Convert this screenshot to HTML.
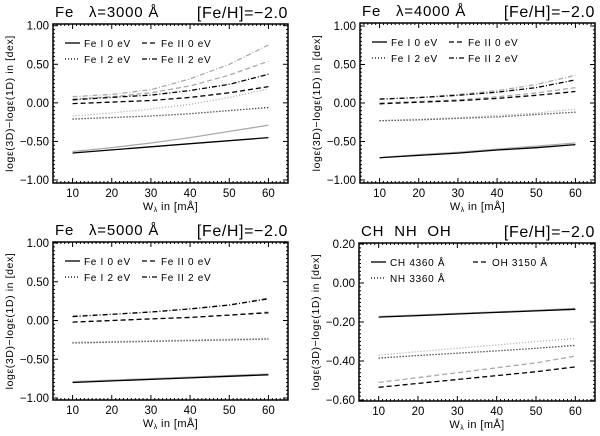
<!DOCTYPE html>
<html><head><meta charset="utf-8"><style>
body{margin:0;background:#fff;}
svg text{font-family:"Liberation Sans",sans-serif;fill:#000;white-space:pre;}
</style></head><body>
<svg id="c" width="600" height="431" viewBox="0 0 600 431" xmlns="http://www.w3.org/2000/svg"></svg>
<script>
const xVals=[10,20,30,40,50,60];
const xTicks=[10,20,30,40,50,60];
const feTicks=[1.0,0.5,0.0,-0.5,-1.0];
const feTickLabels=["1.00","0.50","0.00","-0.50","-1.00"];
const molTicks=[0.2,0.0,-0.2,-0.4,-0.6];
const molTickLabels=["0.20","0.00","-0.20","-0.40","-0.60"];
// panel 1 (3000 A)
const p1FeI0=[-0.65,-0.61,-0.57,-0.53,-0.49,-0.45], p1FeI0g=[-0.63,-0.58,-0.52,-0.45,-0.37,-0.29];
const p1FeI2=[-0.21,-0.19,-0.17,-0.14,-0.10,-0.06], p1FeI2g=[-0.17,-0.13,-0.08,-0.02,0.07,0.18];
const p1FeII0=[-0.01,0.01,0.03,0.07,0.13,0.21], p1FeII0g=[0.05,0.08,0.13,0.22,0.36,0.54];
const p1FeII2=[0.04,0.07,0.10,0.16,0.24,0.37], p1FeII2g=[0.08,0.11,0.17,0.31,0.50,0.75];
// panel 2 (4000 A)
const p2FeI0=[-0.71,-0.68,-0.65,-0.61,-0.58,-0.54], p2FeI0g=[-0.71,-0.67,-0.64,-0.60,-0.56,-0.52];
const p2FeI2=[-0.23,-0.22,-0.20,-0.18,-0.15,-0.12], p2FeI2g=[-0.23,-0.21,-0.19,-0.16,-0.13,-0.08];
const p2FeII0=[-0.01,0.01,0.03,0.06,0.10,0.15], p2FeII0g=[0.00,0.02,0.04,0.08,0.13,0.20];
const p2FeII2=[0.05,0.07,0.10,0.14,0.20,0.30], p2FeII2g=[0.05,0.07,0.11,0.16,0.24,0.36];
// panel 3 (5000 A)
const p3FeI0=[-0.80,-0.78,-0.76,-0.74,-0.72,-0.70], p3FeI0g=[-0.79,-0.77,-0.75,-0.73,-0.71,-0.69];
const p3FeI2=[-0.29,-0.28,-0.27,-0.26,-0.25,-0.24], p3FeI2g=[-0.28,-0.27,-0.26,-0.25,-0.24,-0.23];
const p3FeII0=[-0.02,0.00,0.02,0.04,0.07,0.10], p3FeII0g=[-0.02,0.00,0.02,0.04,0.07,0.11];
const p3FeII2=[0.05,0.08,0.11,0.15,0.20,0.28], p3FeII2g=[0.06,0.08,0.11,0.15,0.20,0.29];
// panel 4 molecules
const p4CH=[-0.175,-0.167,-0.159,-0.151,-0.143,-0.135], p4CHg=[-0.172,-0.164,-0.156,-0.148,-0.140,-0.130];
const p4NH=[-0.385,-0.372,-0.360,-0.348,-0.335,-0.320], p4NHg=[-0.370,-0.352,-0.335,-0.318,-0.300,-0.285];
const p4OH=[-0.535,-0.515,-0.495,-0.475,-0.455,-0.430], p4OHg=[-0.510,-0.485,-0.460,-0.435,-0.410,-0.375];

const NS="http://www.w3.org/2000/svg";
const svg=document.getElementById('c');
function mk(tag,attrs,parent,txt){const e=document.createElementNS(NS,tag);for(const k in attrs)e.setAttribute(k,attrs[k]);if(txt!==undefined)e.textContent=txt;(parent||svg).appendChild(e);return e;}
const DASH={solid:"",dot:"1,2",dash:"5,3",dashdot:"5,2,1,2"};

function panel(cfg){
  const g=mk('g',{});
  
  
  const L=cfg.box[0],R=cfg.box[1],T=cfg.box[2],B=cfg.box[3];
  const xs=v=>L+(v-5)/60*(R-L);
  const ys=v=>cfg.yTop+(cfg.yMax-v)/(cfg.yMax-cfg.yMin)*(cfg.yBot-cfg.yTop);
  const box=mk('rect',{x:L,y:T,width:R-L,height:B-T,fill:'none',stroke:'#000','stroke-width':1.5},g);
  
  
  for(let v=6;v<65;v++){const X=xs(v);const len=(v%10===0)?5:2;
    mk('line',{x1:X,x2:X,y1:B,y2:B-len,stroke:'#000','stroke-width':1},g);
    mk('line',{x1:X,x2:X,y1:T,y2:T+len,stroke:'#000','stroke-width':1},g);}
  const step=cfg.minor;
  for(let v=cfg.yMin;v<=cfg.yMax+1e-9;v+=step){const Y=ys(v);const maj=cfg.ticks.some(t=>Math.abs(t-v)<1e-6);const len=maj?5:2;
    mk('line',{x1:L,x2:L+len,y1:Y,y2:Y,stroke:'#000','stroke-width':1},g);
    mk('line',{x1:R,x2:R-len,y1:Y,y2:Y,stroke:'#000','stroke-width':1},g);}
  xTicks.forEach(t=>{const e=mk('text',{x:xs(t),y:B+14,'font-size':11.5,'text-anchor':'middle'},g,String(t));
    });
  cfg.ticks.forEach((t,i)=>{const e=mk('text',{x:L-4,y:ys(t)+4,'font-size':11.5,'text-anchor':'end'},g,cfg.tickLabels[i].replace('-','\u2212'));
    });
  const xt=mk('text',{x:(L+R)/2,y:B+27,'font-size':11,'text-anchor':'middle','letter-spacing':0.4},g);
  
  mk('tspan',{},xt,'W');mk('tspan',{'font-size':7,dy:2},xt,'\u03bb');mk('tspan',{dy:-2},xt,' in [m\u00c5]');
  const yt=mk('text',{x:0,y:0,'font-size':10.5,'letter-spacing':0.6,'text-anchor':'middle',transform:`translate(${L-40},${(T+B)/2}) rotate(-90)`},g,'log\u03b5(3D)\u2212log\u03b5(1D) in [dex]');
  
  const t1=mk('text',{x:L+2,y:T-7,'font-size':15,'letter-spacing':0.8},g,cfg.title);
  
  const t2=mk('text',{x:R,y:T-6,'font-size':16,'letter-spacing':0.6,'text-anchor':'end'},g,'[Fe/H]=\u22122.0');
  
  cfg.series.forEach(s=>{
    [[s.g,'#aaa'],[s.b,'#000']].forEach(([arr,col])=>{
      const d=arr.map((v,i)=>(i?'L':'M')+xs(xVals[i]).toFixed(1)+','+ys(v).toFixed(1)).join('');
      const p=mk('path',{d:d,fill:'none',stroke:col,'stroke-width':1.3,'stroke-dasharray':DASH[s.style]},g);
      
      
    });
  });
  cfg.legend.forEach(l=>{
    const lx=L+l.col*(cfg.colW), ly=T+19+l.row*16;
    const ln=mk('line',{x1:lx+12,x2:lx+27,y1:ly,y2:ly,stroke:'#000','stroke-width':1.3,'stroke-dasharray':DASH[l.style]},g);
    
    const tx=mk('text',{x:lx+31,y:ly+4,'font-size':10,'letter-spacing':0.7},g,l.text);
    
  });
}
const feLegend=[{col:0,row:0,style:'solid',text:'Fe I 0 eV'},{col:1,row:0,style:'dash',text:'Fe II 0 eV'},
  {col:0,row:1,style:'dot',text:'Fe I 2 eV'},{col:1,row:1,style:'dashdot',text:'Fe II 2 eV'}];
function feSeries(a,ag,b,bg,c,cg,d,dg){return [{key:'fe1-0ev',style:'solid',b:a,g:ag},{key:'fe1-2ev',style:'dot',b:b,g:bg},{key:'fe2-0ev',style:'dash',b:c,g:cg},{key:'fe2-2ev',style:'dashdot',b:d,g:dg}];}
panel({name:'panel-fe-3000',box:[53,288,24,183],yMax:1,yMin:-1,yTop:25.7,yBot:180,minor:0.05,ticks:feTicks,tickLabels:feTickLabels,title:'Fe   \u03bb=3000 \u00c5',colW:77,legend:feLegend,
  series:feSeries(p1FeI0,p1FeI0g,p1FeI2,p1FeI2g,p1FeII0,p1FeII0g,p1FeII2,p1FeII2g)});
panel({name:'panel-fe-4000',box:[360,595,23,183],yMax:1,yMin:-1,yTop:26,yBot:180,minor:0.05,ticks:feTicks,tickLabels:feTickLabels,title:'Fe   \u03bb=4000 \u00c5',colW:77,legend:feLegend,
  series:feSeries(p2FeI0,p2FeI0g,p2FeI2,p2FeI2g,p2FeII0,p2FeII0g,p2FeII2,p2FeII2g)});
panel({name:'panel-fe-5000',box:[53,288,242,400],yMax:1,yMin:-1,yTop:243,yBot:398,minor:0.05,ticks:feTicks,tickLabels:feTickLabels,title:'Fe   \u03bb=5000 \u00c5',colW:77,legend:feLegend,
  series:feSeries(p3FeI0,p3FeI0g,p3FeI2,p3FeI2g,p3FeII0,p3FeII0g,p3FeII2,p3FeII2g)});
panel({name:'panel-molecules',box:[359,595,243,401],yMax:0.2,yMin:-0.6,yTop:244,yBot:400,minor:0.02,ticks:molTicks,tickLabels:molTickLabels,title:'CH  NH  OH',colW:102,
  legend:[{col:0,row:0,style:'solid',text:'CH 4360 \u00c5'},{col:1,row:0,style:'dash',text:'OH 3150 \u00c5'},{col:0,row:1,style:'dot',text:'NH 3360 \u00c5'}],
  series:[{key:'ch-4360',style:'solid',b:p4CH,g:p4CHg},{key:'nh-3360',style:'dot',b:p4NH,g:p4NHg},{key:'oh-3150',style:'dash',b:p4OH,g:p4OHg}]});
</script>
</body></html>
